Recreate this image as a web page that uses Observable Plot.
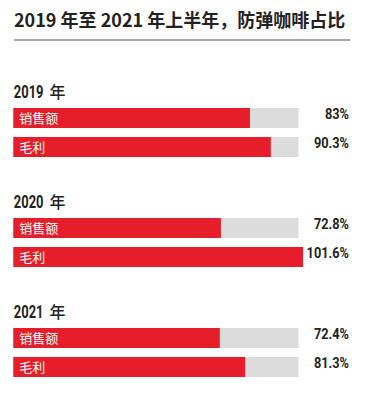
<!DOCTYPE html>
<html><head><meta charset="utf-8">
<script src="https://cdn.jsdelivr.net/npm/d3@7"></script>
<script src="https://cdn.jsdelivr.net/npm/@observablehq/plot@0.6"></script>
<style>
body{margin:0;background:#fff;width:367px;height:396px;overflow:hidden;}
#title{margin:0 17px 0 14px;padding-top:7px;padding-bottom:8px;font:bold 18px/24px "Noto Sans CJK SC",sans-serif;color:#222;border-bottom:2px solid #a6a6a6;white-space:nowrap;}
#chart svg{display:block;}
</style></head><body>
<div id="title">2019 年至 2021 年上半年，防弹咖啡占比</div>
<div id="chart"></div>
<script>
const years = [2019, 2020, 2021];
const metrics = ["销售额", "毛利"];
const sales = [83, 72.8, 72.4];
const profit = [90.3, 101.6, 81.3];
const fullScale = 100;
const yearSuffix = "年";

const rows = years.flatMap((yr, i) => [
  {year: yr, metric: metrics[0], value: sales[i]},
  {year: yr, metric: metrics[1], value: profit[i]}
]);

const narrow = "Roboto,sans-serif";
const cjk = "'Noto Sans CJK SC',sans-serif";

const chart = Plot.plot({
  width: 367, height: 355,
  marginTop: 35, marginBottom: 8.6, marginLeft: 13.3, marginRight: 68.5,
  x: {domain: [0, fullScale], axis: null},
  y: {domain: metrics, axis: null, paddingInner: 0.313, paddingOuter: 0, insetTop: 30.7, insetBottom: 8.7},
  fy: {domain: years, axis: null, paddingInner: 0.187, paddingOuter: 0},
  marks: [
    Plot.barX(rows, {fy: "year", y: "metric", x1: 0, x2: fullScale, fill: "#dcdcdc"}),
    Plot.barX(rows, {fy: "year", y: "metric", x1: 0, x2: "value", fill: "#e61e2a"}),
    Plot.text(rows, {fy: "year", y: "metric", x: 0, text: "metric", dx: 5.5, textAnchor: "start", fill: "#fff", fontSize: 13, fontFamily: cjk}),
    Plot.text(rows, {ariaDescription: "narrow-values", fy: "year", y: "metric", frameAnchor: "right", dx: 50, textAnchor: "end", text: d => d.value + "%", fill: "#222", fontSize: 14.5, fontWeight: "bold", fontFamily: narrow}),
    Plot.text(years, {ariaDescription: "narrow-years", fy: d => d, text: d => String(d), frameAnchor: "top-left", textAnchor: "start", lineAnchor: "bottom", dy: 20.5, fontSize: 18, fontWeight: "bold", fill: "#222", fontFamily: narrow}),
    Plot.text(years, {fy: d => d, text: () => yearSuffix, frameAnchor: "top-left", textAnchor: "start", lineAnchor: "bottom", dy: 20.5, dx: 35.7, fontSize: 16, fontWeight: 500, fill: "#222", fontFamily: cjk})
  ]
});
function condense(sel, k) {
  d3.select(chart).selectAll(sel).each(function() {
    const t = d3.select(this);
    const x = +t.attr("x") || 0, y = +t.attr("y") || 0;
    const tr = t.attr("transform") || "";
    t.attr("x", null).attr("y", null).attr("transform", `${tr} translate(${x},${y}) scale(${k},1)`);
  });
}
condense('g[aria-description="narrow-values"] text', 0.88);
condense('g[aria-description="narrow-years"] text', 0.72);
document.getElementById("chart").appendChild(chart);
</script>
</body></html>
